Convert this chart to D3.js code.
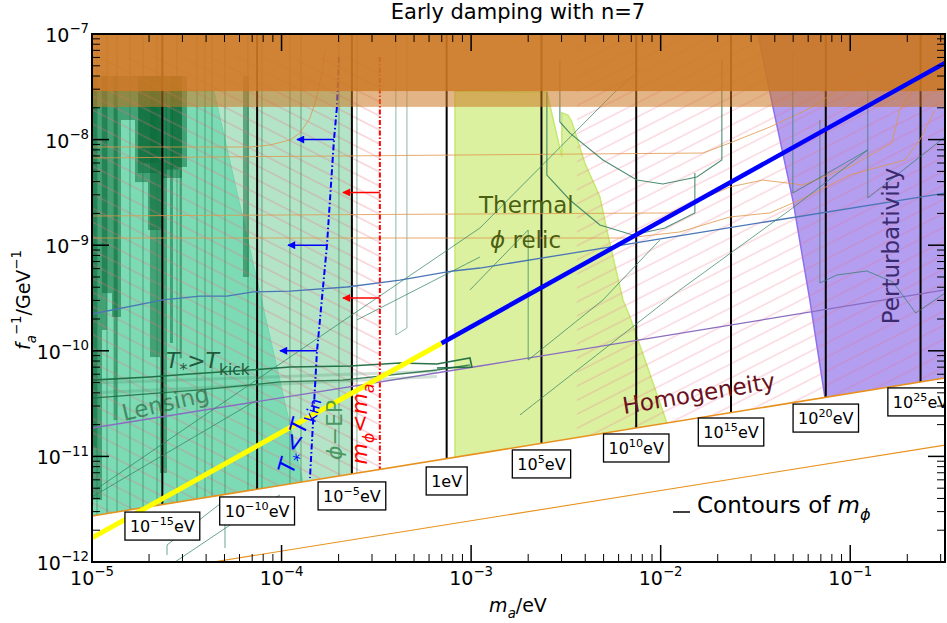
<!DOCTYPE html>
<html><head><meta charset="utf-8">
<script src="https://cdn.jsdelivr.net/npm/d3@7"></script>
<style>
body{margin:0;background:#fff;}
svg{display:block;font-family:"DejaVu Sans",sans-serif;}
</style></head><body>
<svg id="chart" width="947" height="623"></svg>
<script>
// ---------------- DATA ----------------
const xTickVals = [1e-5, 1e-4, 1e-3, 1e-2, 1e-1];
const xTickExp  = ["−5", "−4", "−3", "−2", "−1"];
const yTickVals = [1e-12, 1e-11, 1e-10, 1e-9, 1e-8, 1e-7];
const yTickExp  = ["−12", "−11", "−10", "−9", "−8", "−7"];

// contours of m_phi (vertical lines) and their label boxes
const contourMa   = [2.35e-5, 7.43e-5, 2.35e-4, 7.43e-4, 2.35e-3, 7.43e-3, 2.35e-2, 7.43e-2, 2.35e-1];
const contourExp  = ["−15", "−10", "−5", "", "5", "10", "15", "20", "25"];
const contourBoxF = [2.97e-12, 4.13e-12, 5.73e-12, 7.94e-12, 1.151e-11, 1.63e-11, 2.31e-11, 3.13e-11, 4.45e-11];

// lines
const homogLine  = [[1e-5, 2.73e-12], [0.3162, 5.52e-11]];
const lowerLine  = [[4.35e-5, 1e-12], [0.3162, 1.28e-11]];
const yellowLine = [[1e-5, 1.69e-12], [6.98e-4, 1.18e-10]];
const blueLine   = [[6.98e-4, 1.18e-10], [0.3162, 5.33e-8]];

// orange exclusion bands (f from .. to 1e-7)
const orangeBands = [2.04e-8, 2.88e-8];

// regions
const lightGreen = [[1e-5, 2.88e-8], [2.35e-4, 2.88e-8], [2.35e-4, 1e-12], [1e-5, 1e-12]];
const medGreen   = [[1e-5, 2.88e-8], [4.40e-5, 2.88e-8], [1.297e-4, 5.73e-12], [1.45e-4, 1e-12], [1e-5, 1e-12]];
const limeRegion = [[8.22e-4, 2.88e-8], [2.51e-3, 2.82e-8], [3.01e-3, 6.84e-9], [3.01e-3, 1.79e-8], [3.24e-3, 1.71e-8],
                    [3.40e-3, 1.47e-8], [3.98e-3, 6.0e-9], [4.78e-3, 2.86e-9], [5.20e-3, 1.39e-9], [6.32e-3, 3.03e-10],
                    [6.89e-3, 2.09e-10], [1.079e-2, 2.07e-11], [1.95e-2, 1e-12], [8.22e-4, 1e-12]];
const purpleRegion = [[3.26e-2, 1e-7], [3.91e-2, 2.04e-8], [4.98e-2, 2.68e-9], [6.12e-2, 3.03e-10], [7.35e-2, 3.65e-11],
                      [0.105, 1e-12], [0.3162, 1e-12], [0.3162, 1e-7]];
const hatchLeft  = [[1e-5, 6.05e-8], [3.30e-4, 6.05e-8], [3.30e-4, 1e-12], [1e-5, 1e-12]];
const hatchRight = [[3.61e-3, 1e-7], [0.3162, 1e-7], [0.3162, 1e-12], [3.61e-3, 1e-12]];

// dark-green haloscope-like bars [m0, m1, fBottom]
const haloBars = [
  [1e-5, 1.129e-5, 3.86e-12], [1e-5, 1.06e-5, 1.2e-11], [1.129e-5, 1.275e-5, 3.52e-10], [1.129e-5, 1.2e-5, 1.574e-10],
  [1.275e-5, 1.422e-5, 2.09e-10], [1.30e-5, 1.36e-5, 2.2e-11], [1.422e-5, 1.686e-5, 1.535e-8], [1.686e-5, 1.974e-5, 3.96e-9],
  [1.748e-5, 2.339e-5, 4.83e-9], [1.76e-5, 2.25e-5, 6.0e-9], [1.974e-5, 2.339e-5, 1.393e-9], [2.023e-5, 2.284e-5, 8.73e-11],
  [2.339e-5, 2.984e-5, 4.33e-9], [2.45e-5, 2.9e-5, 5.2e-9], [2.642e-5, 3.17e-5, 5.51e-9], [2.578e-5, 2.674e-5, 1.186e-10],
  [2.9e-5, 2.98e-5, 8.5e-11], [6.26e-5, 6.73e-5, 5.0e-10], [2.284e-5, 2.487e-5, 6.97e-12]];
const haloTop = 4.0e-8;

// thin vertical constraint lines
const thinVerticals = [1.063e-5, 1.2e-5, 1.355e-5, 1.586e-5, 1.858e-5, 2.203e-5, 2.808e-5, 3.58e-5, 3.945e-5,
                       4.295e-5, 5.03e-5, 6.65e-5, 7.88e-5, 1.107e-4, 1.266e-4, 2.008e-4, 2.498e-4];
const uShapeEP = [[4.01e-4, 1e-7], [4.01e-4, 1.413e-10], [4.586e-4, 1.644e-10], [4.586e-4, 1e-7]];

// thin orange lines
const orangeA = [[1e-5, 6.70e-9], [1.67e-2, 7.46e-9], [2.317e-2, 9.29e-9], [3.767e-2, 1.315e-8], [6.35e-2, 2.04e-8], [0.1123, 4.09e-8], [0.1433, 5.68e-8]];
const orangeB = [[1e-5, 8.51e-9], [6.81e-5, 8.51e-9], [8.69e-5, 8.89e-9], [1.107e-4, 9.91e-9], [1.25e-4, 1.153e-8], [1.412e-4, 1.603e-8], [1.518e-4, 2.37e-8], [1.633e-4, 4.28e-8], [1.694e-4, 7.05e-8]];
const orangeC = [[1e-5, 1.89e-9], [1.118e-2, 2.02e-9], [2.317e-2, 3.56e-9], [3.46e-2, 4.14e-9], [5.62e-2, 3.72e-9], [9.95e-2, 5.51e-9], [0.1657, 9.29e-9], [0.1827, 1.905e-8], [0.2139, 2.95e-8], [0.263, 5.68e-8]];
const orangeD = [[1e-5, 1.17e-9], [6.63e-3, 1.17e-9], [1.263e-2, 1.334e-9], [2.317e-2, 1.85e-9], [3.767e-2, 2.02e-9], [5.42e-2, 2.68e-9], [9.95e-2, 4.62e-9], [0.194, 6.41e-9], [0.2329, 9.91e-9], [0.2794, 1.905e-8]];
// other thin lines
const steelLine  = [[1e-5, 2.23e-10], [2.369e-5, 3.03e-10], [3.71e-5, 3.30e-10], [5.15e-5, 3.30e-10], [7.07e-5, 3.61e-10], [1.107e-4, 3.68e-10], [2.213e-4, 4.02e-10], [4.21e-4, 4.68e-10], [8.02e-4, 5.70e-10], [1.113e-3, 6.08e-10], [0.3162, 3.12e-9]];
const purpleLine = [[1e-5, 1.858e-11], [1.113e-3, 7.18e-11], [0.3162, 3.77e-10]];
const kickLine   = [[1e-5, 5.28e-11], [2.023e-5, 5.65e-11], [3.288e-5, 6.03e-11], [6.81e-5, 6.58e-11], [1.107e-4, 7.03e-11], [2.296e-4, 7.18e-11], [4.21e-4, 7.66e-11], [6.60e-4, 7.5e-11], [9.86e-4, 8.55e-11], [1.01e-3, 7.03e-11], [6.60e-4, 6.87e-11]];
const kickLine2  = [[1e-5, 3.57e-11], [3.71e-5, 4.26e-11], [9.81e-5, 5.07e-11], [2.108e-4, 5.28e-11], [6.60e-4, 6.58e-11], [9.86e-4, 7.35e-11]];
const lensBands  = [[[1e-5, 4.95e-11], [6.6e-4, 6.4e-11]], [[1e-5, 3.98e-11], [6.6e-4, 5.7e-11]]];
const diagLine1  = [[1e-5, 4.6e-12], [2.108e-4, 1.914e-10], [1.113e-3, 1.455e-9], [5.73e-3, 2.82e-8], [7.77e-3, 4.56e-8]];
const diagLine2  = [[2.498e-4, 1.96e-10], [1.113e-3, 7.73e-10]];
const diagLine3  = [[1.81e-3, 2.47e-11], [1.263e-2, 3.77e-10], [4.80e-2, 2.15e-9], [0.1238, 7.98e-9]];
const diagLine4  = [[1e-5, 4.13e-12], [7.42e-5, 3.42e-11]];
const stepLine1  = [[9.86e-4, 3.77e-10], [2.0e-3, 1.393e-9], [2.0e-3, 8.18e-11], [4.96e-3, 3.03e-10], [9.9e-3, 1.12e-9]];
const zigLines = [
  [[2.487e-5, 1.164e-12], [2.487e-5, 1.449e-12], [5.03e-5, 3.86e-12]],
  [[5.03e-5, 1.358e-12], [5.03e-5, 2.24e-12], [9.81e-5, 4.31e-12]],
  [[2.74e-5, 1e-12], [7.69e-5, 3.47e-12]]];
const perturbLines = [
  [[4.98e-2, 6.6e-8], [4.98e-2, 3.12e-9], [0.1238, 7.98e-9]],
  [[0.1238, 3.83e-8], [0.1238, 2.8e-9], [0.3162, 1.06e-8]],
  [[6.92e-2, 1.535e-8], [6.92e-2, 4.39e-10], [8.50e-2, 5.22e-10], [0.1224, 5.70e-10], [0.1678, 4.49e-10], [0.2218, 2.28e-10], [0.3162, 3.52e-10]]];
const uCurve1 = [[2.94e-3, 5.68e-8], [2.94e-3, 1.47e-8], [3.32e-3, 1.153e-8], [4.96e-3, 6.41e-9], [7.49e-3, 4.14e-9], [1.027e-2, 3.80e-9], [1.552e-2, 4.43e-9], [2.103e-2, 6.41e-9], [2.103e-2, 5.68e-8]];
const uCurve2 = [[2.51e-3, 2.82e-8], [2.51e-3, 4.62e-9], [3.32e-3, 2.68e-9], [4.78e-3, 1.553e-9], [7.13e-3, 1.25e-9], [1.052e-2, 1.455e-9], [1.515e-2, 2.02e-9], [1.515e-2, 4.83e-9]];

// T*<T_kin boundary (dash-dot) and arrows
const tkinLine = [[2.008e-4, 6.05e-8], [1.96e-4, 2.04e-8], [1.89e-4, 9.91e-9], [1.736e-4, 1.0e-9], [1.537e-4, 9.8e-11], [1.412e-4, 6.24e-12]];
const tkinArrows = [[1.89e-4, 1.206e-4, 1e-8], [1.736e-4, 1.081e-4, 1e-9], [1.537e-4, 9.81e-5, 1e-10]];
// m_phi < m_a boundary and arrows
const mphiLine = [[3.30e-4, 6.05e-8], [3.30e-4, 7.52e-12]];
const mphiArrows = [[3.30e-4, 2.108e-4, 3.16e-9], [3.30e-4, 2.108e-4, 3.16e-10]];

// ---------------- CHART ----------------
const svg = d3.select("#chart");
const L = 92, R = 945, T = 34, B = 562;
const x = d3.scaleLog().domain([1e-5, 0.3162]).range([L, R]);
const y = d3.scaleLog().domain([1e-12, 1e-7]).range([B, T]);
const line = d3.line().x(d => x(d[0])).y(d => y(d[1]));
const poly = pts => line(pts) + "Z";

const defs = svg.append("defs");
defs.append("clipPath").attr("id", "plotClip").append("rect").attr("x", L).attr("y", T).attr("width", R - L).attr("height", B - T);
defs.append("clipPath").attr("id", "homClip").append("path")
  .attr("d", poly([[1e-5, 1e-7], [0.3162, 1e-7], homogLine[1], homogLine[0]]));
function hatch(id, angle, color, op) {
  const p = defs.append("pattern").attr("id", id).attr("patternUnits", "userSpaceOnUse")
    .attr("width", 12).attr("height", 12.5).attr("patternTransform", `rotate(${angle})`);
  p.append("line").attr("x1", -1).attr("x2", 13).attr("y1", 6).attr("y2", 6)
    .attr("stroke", color).attr("stroke-opacity", op).attr("stroke-width", 1.3);
}
hatch("hatchL", 27, "#e8707f", 0.38);
hatch("hatchR", -27, "#f06c88", 0.3);
const mk = (id, color) => defs.append("marker").attr("id", id).attr("viewBox", "0 0 10 10")
  .attr("refX", 9).attr("refY", 5).attr("markerWidth", 11).attr("markerHeight", 8)
  .attr("markerUnits", "userSpaceOnUse").attr("orient", "auto")
  .append("path").attr("d", "M0,0L10,5L0,10Z").attr("fill", color);
mk("arrB", "#0000ff"); mk("arrR", "#ff0000");

const plot = svg.append("g").attr("clip-path", "url(#plotClip)");
const hg = plot.append("g").attr("clip-path", "url(#homClip)");

hg.append("path").attr("d", poly(lightGreen)).attr("fill", "#b4e4c8");
hg.append("path").attr("d", poly(medGreen)).attr("fill", "#7cdab5").attr("stroke", "#6fd6ad").attr("stroke-width", 1);
hg.selectAll("rect.halo").data(haloBars).join("rect").attr("class", "halo")
  .attr("x", d => x(d[0])).attr("width", d => x(d[1]) - x(d[0]))
  .attr("y", y(haloTop)).attr("height", d => y(d[2]) - y(haloTop))
  .attr("fill", "#086836").attr("fill-opacity", 0.5);
hg.append("path").attr("d", poly(limeRegion)).attr("fill", "#dbf1a0").attr("stroke", "#c6e86e").attr("stroke-width", 1.5);
hg.append("path").attr("d", poly(purpleRegion)).attr("fill", "#b39ef0").attr("stroke", "#8d70ee").attr("stroke-width", 1.5);
hg.append("path").attr("d", poly(hatchLeft)).attr("fill", "url(#hatchL)");
hg.append("path").attr("d", poly(hatchRight)).attr("fill", "url(#hatchR)");

// thin vertical lines
hg.selectAll("line.tv").data(thinVerticals).join("line").attr("class", "tv")
  .attr("x1", d => x(d)).attr("x2", d => x(d)).attr("y1", y(1e-7)).attr("y2", y(1e-12))
  .attr("stroke", "#1f7a4c").attr("stroke-opacity", 0.45).attr("stroke-width", 1.3);
hg.append("path").attr("d", line(uShapeEP)).attr("fill", "none").attr("stroke", "#3d8a6a").attr("stroke-opacity", 0.6);

const thin = (pts, color, w, op, parent) => (parent || plot).append("path").attr("d", line(pts)).attr("fill", "none")
  .attr("stroke", color).attr("stroke-width", w).attr("stroke-opacity", op);
[orangeA, orangeB, orangeC, orangeD].forEach(o => thin(o, "#e0964a", 1, 0.8));
thin(steelLine, "#4b76b6", 1.3, 1);
thin(purpleLine, "#8a6cc0", 1.3, 1);
lensBands.forEach(b => thin(b, "#4b8a64", 3, 0.25));
thin(kickLine, "#1d6b40", 1.6, 0.95);
thin(kickLine2, "#1d6b40", 1.3, 0.85);
[diagLine1, diagLine2, diagLine3, diagLine4, stepLine1].forEach(d => thin(d, "#2e8060", 1, 0.7));
zigLines.forEach(d => thin(d, "#2e8060", 1, 0.7));
perturbLines.forEach(d => thin(d, "#2e7a6a", 1, 0.7));
thin(uCurve1, "#2e7a5a", 1.1, 0.85);
thin(uCurve2, "#2e7a5a", 1.1, 0.85);

// T*<Tkin and m_phi<m_a boundaries
plot.append("path").attr("d", line(tkinLine)).attr("fill", "none").attr("stroke", "#0000ff")
  .attr("stroke-width", 2).attr("stroke-dasharray", "6,2.5,1.5,2.5");
plot.selectAll("line.ab").data(tkinArrows).join("line").attr("class", "ab")
  .attr("x1", d => x(d[0])).attr("x2", d => x(d[1])).attr("y1", d => y(d[2])).attr("y2", d => y(d[2]))
  .attr("stroke", "#0000ff").attr("stroke-width", 1.5).attr("marker-end", "url(#arrB)");
plot.append("path").attr("d", line(mphiLine)).attr("fill", "none").attr("stroke", "#ff0000")
  .attr("stroke-width", 2).attr("stroke-dasharray", "5,2,1.5,2");
plot.selectAll("line.ar").data(mphiArrows).join("line").attr("class", "ar")
  .attr("x1", d => x(d[0])).attr("x2", d => x(d[1])).attr("y1", d => y(d[2])).attr("y2", d => y(d[2]))
  .attr("stroke", "#ff0000").attr("stroke-width", 1.5).attr("marker-end", "url(#arrR)");

// orange bands
plot.append("rect").attr("x", L).attr("width", R - L).attr("y", y(1e-7)).attr("height", y(orangeBands[0]) - y(1e-7))
  .attr("fill", "#cc7822").attr("fill-opacity", 0.55);
plot.append("rect").attr("x", L).attr("width", R - L).attr("y", y(1e-7)).attr("height", y(orangeBands[1]) - y(1e-7))
  .attr("fill", "#cc7822").attr("fill-opacity", 0.82);

// homogeneity and lower orange lines
thin(homogLine, "#e8911c", 1.6, 1);
thin(lowerLine, "#e8911c", 1.1, 1);

// black contour lines
hg.selectAll("line.ct").data(contourMa).join("line").attr("class", "ct")
  .attr("x1", d => x(d)).attr("x2", d => x(d)).attr("y1", y(1e-7)).attr("y2", y(1e-12))
  .attr("stroke", "#000").attr("stroke-width", 2);

// thick line
thin(yellowLine, "#ffff00", 5, 1);
thin(blueLine, "#0000ff", 4.5, 1);

// rich text helper
function rich(t, parts, fs) {
  let shift = 0;
  parts.forEach(p => {
    const tgt = p.sub ? fs * 0.3 : p.sup ? -fs * 0.45 : 0;
    const ts = t.append("tspan").text(p.t).attr("dy", tgt - shift)
      .attr("font-size", (p.sub || p.sup) ? fs * 0.7 : fs);
    if (p.it) ts.attr("font-style", "italic");
    shift = tgt;
  });
  return t;
}

// contour label boxes
const boxG = plot.append("g");
contourMa.forEach((m, i) => {
  const g = boxG.append("g");
  const top = y(contourBoxF[i]);
  const parts = contourExp[i] === "" ? [{t: "1eV"}] : [{t: "10"}, {t: contourExp[i], sup: true}, {t: "eV"}];
  const t = g.append("text").attr("x", x(m)).attr("y", top + 20).attr("text-anchor", "middle").attr("fill", "#000");
  rich(t, parts, 16);
  const bb = t.node().getBBox();
  g.insert("rect", "text").attr("x", bb.x - 5).attr("y", top).attr("width", bb.width + 10).attr("height", 28)
    .attr("fill", "#fff").attr("stroke", "#000").attr("stroke-width", 1.3);
});

// annotations
const ann = plot.append("g");
rich(ann.append("text").attr("x", 479).attr("y", 213).attr("fill", "#4b5f10"), [{t: "Thermal"}], 23);
rich(ann.append("text").attr("x", 490).attr("y", 248).attr("fill", "#4b5f10"), [{t: "ϕ", it: true}, {t: " relic"}], 23);
rich(ann.append("text").attr("transform", "translate(899,246) rotate(-90)").attr("text-anchor", "middle").attr("fill", "#3b2a6e"), [{t: "Perturbativity"}], 23);
rich(ann.append("text").attr("transform", "translate(624,414) rotate(-9.5)").attr("fill", "#6a1020"), [{t: "Homogeneity"}], 23);
rich(ann.append("text").attr("transform", "translate(124,421) rotate(-13)").attr("fill", "#2c6842").attr("fill-opacity", 0.7), [{t: "Lensing"}], 23);
rich(ann.append("text").attr("x", 166).attr("y", 368).attr("fill", "#1e5a3c"),
  [{t: "T", it: true}, {t: "*", sub: true}, {t: ">"}, {t: "T", it: true}, {t: "kick", sub: true}], 22);
rich(ann.append("text").attr("transform", "translate(293,475) rotate(-74)").attr("fill", "#0000ff"),
  [{t: "T", it: true}, {t: "*", sub: true}, {t: "<"}, {t: "T", it: true}, {t: "kin", sub: true}], 23);
rich(ann.append("text").attr("transform", "translate(342,430) rotate(-90)").attr("text-anchor", "middle").attr("fill", "#3a8a50").attr("fill-opacity", 0.85),
  [{t: "ϕ", it: true}, {t: "−EP"}], 22);
rich(ann.append("text").attr("transform", "translate(367,424) rotate(-90)").attr("text-anchor", "middle").attr("fill", "#ff0000"),
  [{t: "m", it: true}, {t: "ϕ", sub: true, it: true}, {t: "<"}, {t: "m", it: true}, {t: "a", sub: true, it: true}], 22);
ann.append("line").attr("x1", 673).attr("x2", 690).attr("y1", 512).attr("y2", 512).attr("stroke", "#000").attr("stroke-width", 1.5);
rich(ann.append("text").attr("x", 697).attr("y", 513).attr("fill", "#000"),
  [{t: "Contours of "}, {t: "m", it: true}, {t: "ϕ", sub: true, it: true}], 23);

// frame and ticks
const axG = svg.append("g");
const xMinor = [], yMinor = [];
for (let e = -5; e <= -1; e++) for (let k = 2; k <= 9; k++) { const v = k * Math.pow(10, e); if (v <= 0.3162) xMinor.push(v); }
for (let e = -12; e <= -8; e++) for (let k = 2; k <= 9; k++) yMinor.push(k * Math.pow(10, e));
const tick = (x1, y1, x2, y2, w) => axG.append("line").attr("x1", x1).attr("y1", y1).attr("x2", x2).attr("y2", y2).attr("stroke", "#000").attr("stroke-width", w);
xTickVals.forEach(v => { tick(x(v), B, x(v), B - 17, 1.5); tick(x(v), T, x(v), T + 17, 1.5); });
xMinor.forEach(v => { tick(x(v), B, x(v), B - 8, 1); tick(x(v), T, x(v), T + 8, 1); });
yTickVals.forEach(v => { tick(L, y(v), L + 17, y(v), 1.5); tick(R, y(v), R - 17, y(v), 1.5); });
yMinor.forEach(v => { tick(L, y(v), L + 8, y(v), 1); tick(R, y(v), R - 8, y(v), 1); });
axG.append("rect").attr("x", L).attr("y", T).attr("width", R - L).attr("height", B - T)
  .attr("fill", "none").attr("stroke", "#000").attr("stroke-width", 2);

xTickVals.forEach((v, i) => rich(axG.append("text").attr("x", x(v)).attr("y", 585).attr("text-anchor", "middle"), [{t: "10"}, {t: xTickExp[i], sup: true}], 19));
yTickVals.forEach((v, i) => rich(axG.append("text").attr("x", 89).attr("y", y(v) + 8).attr("text-anchor", "end"), [{t: "10"}, {t: yTickExp[i], sup: true}], 19));

// titles
svg.append("text").attr("x", 518).attr("y", 19).attr("text-anchor", "middle").attr("font-size", 21).text("Early damping with n=7");
rich(svg.append("text").attr("x", 518).attr("y", 612).attr("text-anchor", "middle"), [{t: "m", it: true}, {t: "a", sub: true, it: true}, {t: "/eV"}], 19);
rich(svg.append("text").attr("transform", "translate(30,300) rotate(-90)").attr("text-anchor", "middle"),
  [{t: "f", it: true}, {t: "a", sub: true, it: true}, {t: "−1", sup: true}, {t: "/GeV"}, {t: "−1", sup: true}], 19);
</script>
</body></html>
